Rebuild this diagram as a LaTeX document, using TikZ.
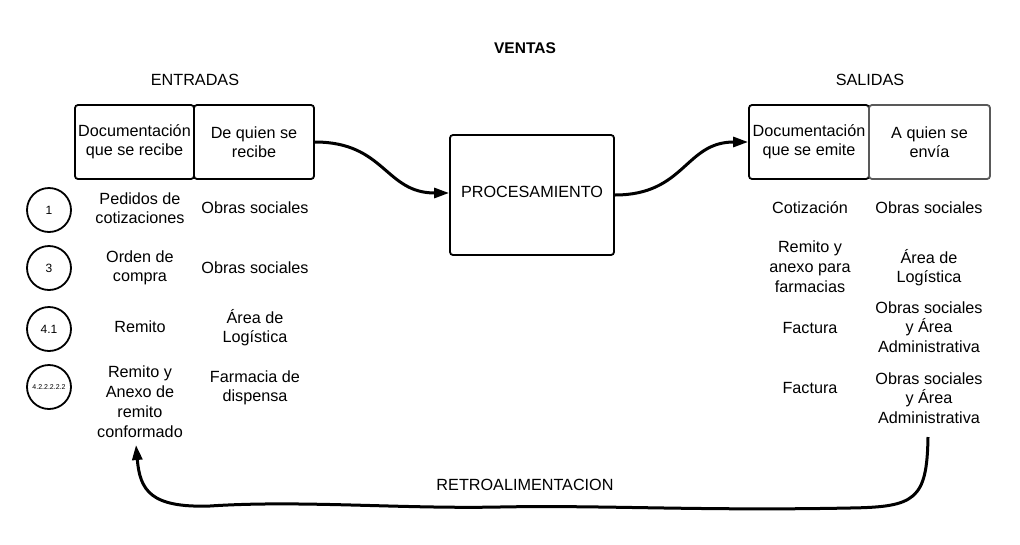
\documentclass[tikz,border=0pt]{standalone}
\usepackage{fontspec}
\setmainfont{Liberation Sans}
\usetikzlibrary{arrows.meta}
\begin{document}
\begin{tikzpicture}[x=1pt,y=-1pt,
  txt/.style={font=\fontsize{16.2}{19}\selectfont, align=center, inner sep=0pt},
  hbox/.style={draw, line width=1.8pt, rounded corners=3pt, minimum height=74pt, inner sep=0pt, align=center, font=\fontsize{16.2}{19}\selectfont},
  numc/.style={draw, circle, line width=1.8pt, minimum size=44pt, inner sep=0pt, font=\fontsize{12}{14}\selectfont},
  conn/.style={line width=3pt, -{Triangle[length=15pt,width=10pt]}}
]
\useasboundingbox (0,0) rectangle (1020,544);
\node[font=\bfseries\fontsize{15.5}{18}\selectfont] (ventas) at (525,48) {VENTAS};
\node[txt] (entradas) at (195,80) {ENTRADAS};
\node[txt] (salidas) at (870,80) {SALIDAS};
% left header boxes
\node[hbox, minimum width=119pt] (lb1) at (134.5,142) {Documentación\\que se recibe};
\node[hbox, minimum width=120pt] (lb2) at (254,142) {De quien se\\recibe};
% processing
\node[hbox, minimum width=164pt, minimum height=120pt] (proc) at (532,195) {};
\node[txt] (proct) at (532,192) {PROCESAMIENTO};
% right header boxes
\node[hbox, minimum width=120pt] (rb1) at (809,142) {Documentación\\que se emite};
\node[hbox, minimum width=121pt, draw=black!65] (rb2) at (929.5,142) {A quien se\\envía};
% circles
\node[numc] (c1) at (49,210) {1};
\node[numc] (c3) at (49,268) {3};
\node[numc] (c41) at (49,329) {4.1};
\node[numc, font=\fontsize{7}{8}\selectfont] (c42) at (49,387) {4.2.2.2.2.2};
% left column texts
\node[txt] (l1a) at (140,208) {Pedidos de\\cotizaciones};
\node[txt] (l2a) at (140,268) {Orden de\\compra};
\node[txt] (l3a) at (140,327) {Remito};
\node[txt, font=\fontsize{16.2}{20}\selectfont] (l4a) at (140,402) {Remito y\\Anexo de\\remito\\conformado};
\node[txt] (l1b) at (255,208) {Obras sociales};
\node[txt] (l2b) at (255,268) {Obras sociales};
\node[txt] (l3b) at (255,328) {Área de\\Logística};
\node[txt] (l4b) at (255,388) {Farmacia de\\dispensa};
% right column texts
\node[txt] (r1a) at (810,208) {Cotización};
\node[txt, font=\fontsize{16.2}{20}\selectfont] (r2a) at (810,267) {Remito y\\anexo para\\farmacias};
\node[txt] (r3a) at (810,328) {Factura};
\node[txt] (r4a) at (810,388) {Factura};
\node[txt] (r1b) at (929,208) {Obras sociales};
\node[txt] (r2b) at (929,268) {Área de\\Logística};
\node[txt, font=\fontsize{16.2}{19.5}\selectfont] (r3b) at (929,327) {Obras sociales\\y Área\\Administrativa};
\node[txt, font=\fontsize{16.2}{19.5}\selectfont] (r4b) at (929,398) {Obras sociales\\y Área\\Administrativa};
\node[txt] (retro) at (525,485) {RETROALIMENTACION};
% connectors
\draw[conn] (lb2.east |- 0,142) .. controls (385,142) and (385,193) .. (proc.west |- 0,193);
\draw[conn] (proc.east |- 0,195) .. controls (685,195) and (685,142) .. (rb1.west |- 0,142);
\coordinate (fbs) at (928,437);
\coordinate (fbe) at (136,445);
\draw[conn] (fbs) .. controls (927,500) and (915,507) .. (850,508)
  .. controls (700,511) and (600,505) .. (500,507)
  .. controls (400,509) and (300,500) .. (210,506)
  .. controls (150,508) and (140,490) .. (fbe);
\end{tikzpicture}
\end{document}
